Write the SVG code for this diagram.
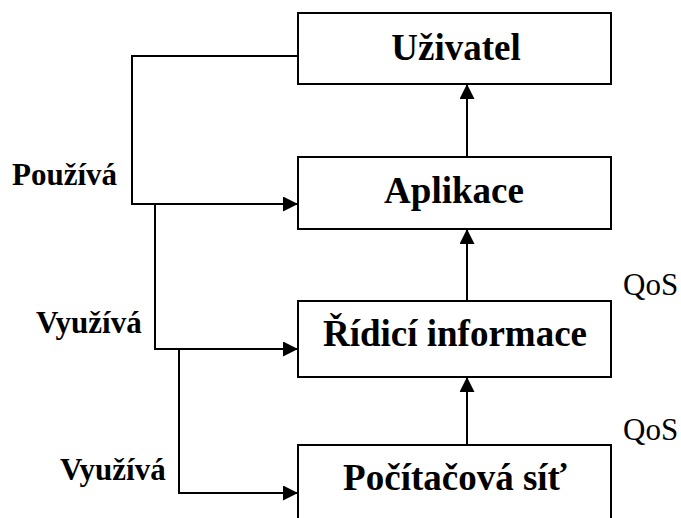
<svg xmlns="http://www.w3.org/2000/svg" width="681" height="518" viewBox="0 0 681 518">
<defs>
<marker id="arr" markerUnits="userSpaceOnUse" markerWidth="16" markerHeight="16" refX="15" refY="7.5" orient="auto">
<polygon points="0,0 15,7.5 0,15" fill="#000"/>
</marker>
<style>
.box{fill:#fff;stroke:#000;stroke-width:2}
.lbl{font-family:'Liberation Serif','DejaVu Serif',serif;font-weight:bold;font-size:37px;text-anchor:middle;fill:#000}
.side{font-family:'Liberation Serif','DejaVu Serif',serif;font-weight:bold;font-size:31px;fill:#000}
.qos{font-family:'Liberation Serif','DejaVu Serif',serif;font-size:31px;fill:#000}
.con{fill:none;stroke:#000;stroke-width:2}
</style>
</defs>
<rect width="681" height="518" fill="#fff"/>
<g id="connectors">
<path class="con" d="M298,56 H132 V204 H298" marker-end="url(#arr)"/>
<path class="con" d="M155,204 V349 H298" marker-end="url(#arr)"/>
<path class="con" d="M179,349 V493 H298" marker-end="url(#arr)"/>
<path class="con" d="M467,157 V84" marker-end="url(#arr)"/>
<path class="con" d="M467,301 V229" marker-end="url(#arr)"/>
<path class="con" d="M467,445 V377" marker-end="url(#arr)"/>
</g>
<g id="uzivatel">
<rect class="box" x="298" y="13" width="313" height="71"/>
<text class="lbl" x="456" y="60">Uživatel</text>
</g>
<g id="aplikace">
<rect class="box" x="298" y="157" width="313" height="72"/>
<text class="lbl" x="454" y="203">Aplikace</text>
</g>
<g id="ridici">
<rect class="box" x="298" y="301" width="313" height="76"/>
<text class="lbl" x="455" y="346">Řídicí informace</text>
</g>
<g id="pocitacova">
<rect class="box" x="298" y="445" width="313" height="80"/>
<text class="lbl" x="455" y="490">Počítačová síť</text>
</g>
<g id="labels">
<text class="side" x="12" y="185">Používá</text>
<text class="side" x="36" y="333">Využívá</text>
<text class="side" x="60" y="480">Využívá</text>
<text class="qos" x="623" y="295">QoS</text>
<text class="qos" x="623" y="440">QoS</text>
</g>
</svg>
